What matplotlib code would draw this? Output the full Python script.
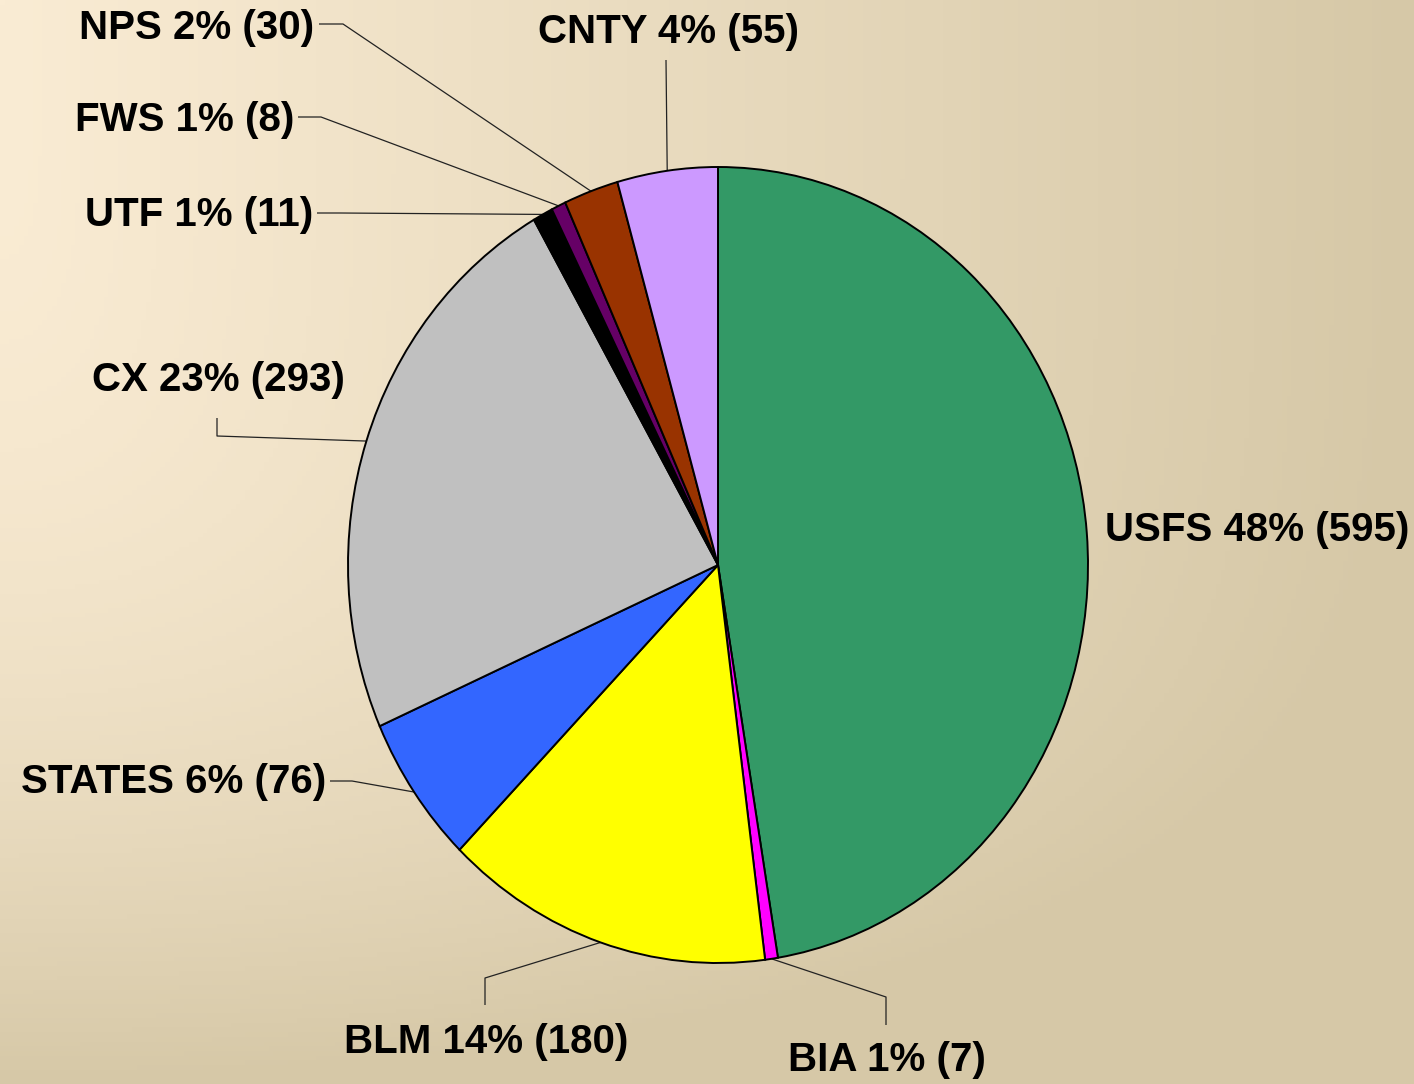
import numpy as np
import matplotlib
matplotlib.use("Agg")
import matplotlib.pyplot as plt

# ---- data ----
agencies = ["USFS", "BIA", "BLM", "STATES", "CX", "UTF", "FWS", "NPS", "CNTY"]
counts = [595, 7, 180, 76, 293, 11, 8, 30, 55]
percents = [48, 1, 14, 6, 23, 1, 1, 2, 4]
colors = ["#339966", "#FF00FF", "#FFFF00", "#3366FF", "#C0C0C0",
          "#000000", "#660066", "#993300", "#CC99FF"]

W, H = 1414, 1084
fig = plt.figure(figsize=(W / 100, H / 100), dpi=100)

# background gradient (cream at top-left to tan)
bg = fig.add_axes([0, 0, 1, 1], zorder=-10)
bg.axis("off")
xs = np.linspace(0, 1, 300)
ys = np.linspace(0, 1, 230)
X, Y = np.meshgrid(xs, ys)
t = np.clip(np.sqrt(X ** 2 + (Y ** 2.5) ** 2), 0, 1)
c0 = np.array([250, 236, 212]) / 255
c1 = np.array([214, 200, 167]) / 255
img = c0[None, None, :] * (1 - t[..., None]) + c1[None, None, :] * t[..., None]
bg.imshow(img, extent=[0, 1, 0, 1], aspect="auto", origin="upper")
bg.set_xlim(0, 1); bg.set_ylim(0, 1)

# pie axes covering the figure; pixel layout constants
cx, cy, rx, ry = 718, 565, 370, 398
ax = fig.add_axes([0, 0, 1, 1])
ax.patch.set_alpha(0)
wedges, _ = ax.pie(counts, colors=colors, startangle=90, counterclock=False,
                   wedgeprops=dict(edgecolor="black", linewidth=1.4))
ax.set_aspect("auto")
ax.set_xlim(-cx / rx, (W - cx) / rx)
ax.set_ylim(-(H - cy) / ry, cy / ry)
ax.axis("off")


def p2d(px, py):
    return ((px - cx) / rx, (cy - py) / ry)


font = dict(family=["Liberation Sans", "DejaVu Sans"], weight="bold", size=29, color="black")

# label layout: (text anchor px, ha, leader waypoints px)
layout = {
    "USFS": ((1105, 530), "left", []),
    "BIA": ((887, 1060), "center", [(886, 1025), (886, 997)]),
    "BLM": ((486, 1042), "center", [(485, 1005), (485, 978)]),
    "STATES": ((326, 782), "right", [(330, 781), (352, 781)]),
    "CX": ((345, 380), "right", [(217, 418), (217, 436)]),
    "UTF": ((313, 215), "right", [(317, 213), (340, 213)]),
    "FWS": ((294, 120), "right", [(298, 117), (321, 117)]),
    "NPS": ((314, 28), "right", [(319, 24), (343, 24)]),
    "CNTY": ((668, 32), "center", [(666, 60)]),
}

for w, name, n, pct in zip(wedges, agencies, counts, percents):
    (tx, ty), ha, pts = layout[name]
    ax.text(*p2d(tx, ty), f"{name} {pct}% ({n})", ha=ha, va="center", **font)
    if pts:
        mid = np.deg2rad((w.theta1 + w.theta2) / 2)
        ex, ey = np.cos(mid), np.sin(mid)
        path = [p2d(*p) for p in pts] + [(ex, ey)]
        ax.plot([p[0] for p in path], [p[1] for p in path], color="#222222",
                lw=0.9, zorder=0.5, solid_capstyle="butt")

fig.savefig("out.png", dpi=100)
